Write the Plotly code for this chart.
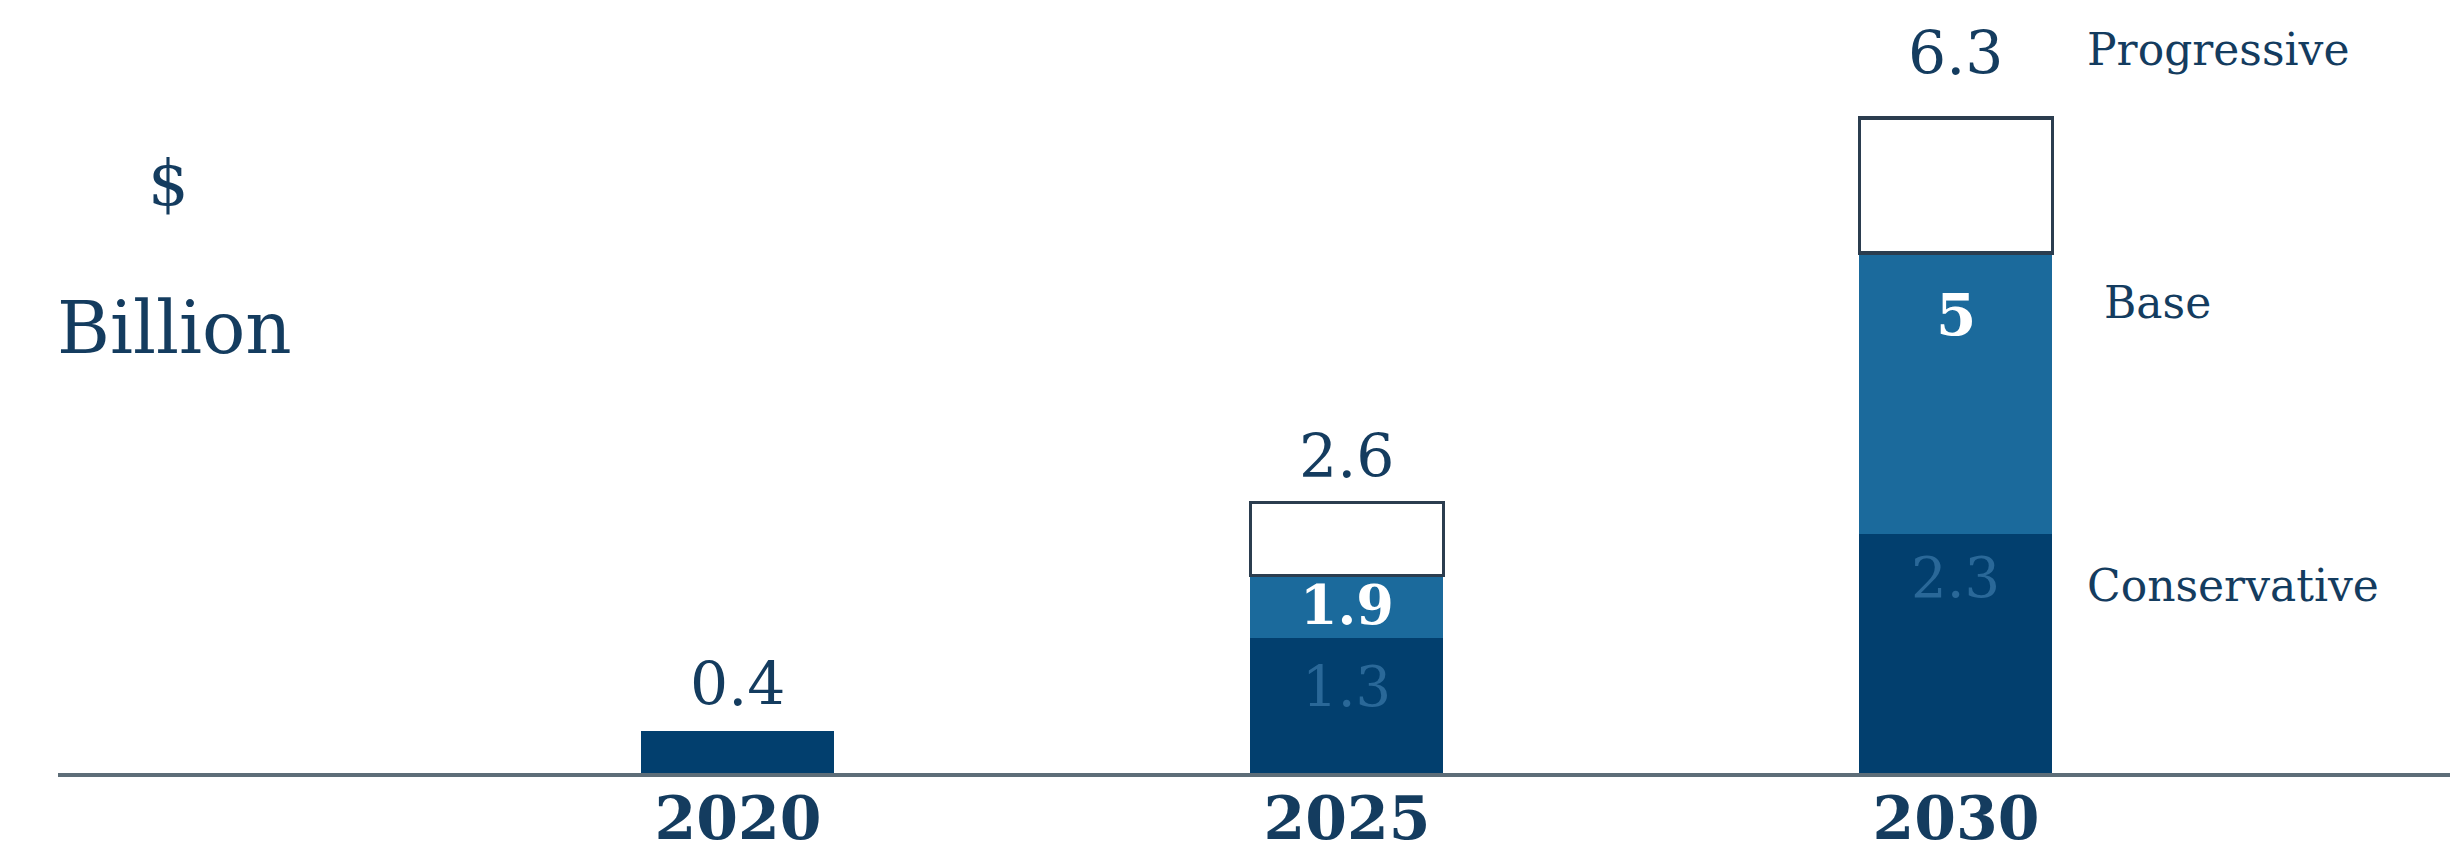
import plotly.graph_objects as go

years = ["2020", "2025", "2030"]
conservative = [0.4, 1.3, 2.3]
base = [None, 1.9, 5.0]
progressive = [None, 2.6, 6.3]

NAVY = "#143c5f"
DARK = "#023f6e"
MID = "#1b6a9c"
FONT = "DejaVu Serif"

base_inc = [None if b is None else round(b - c, 2) for b, c in zip(base, conservative)]
prog_inc = [None if p is None else round(p - b, 2) for p, b in zip(progressive, base)]

fig = go.Figure()
fig.add_bar(x=years, y=conservative, marker=dict(color=DARK, line=dict(width=0)), name="Conservative")
fig.add_bar(x=years, y=base_inc, marker=dict(color=MID, line=dict(width=0)), name="Base")
fig.add_bar(x=years, y=prog_inc, marker=dict(color="white", line=dict(color="#2b3d4f", width=3.5)), name="Progressive")

anns = []
# totals above bars
totals = [conservative[0], progressive[1], progressive[2]]
shifts = [10, 10, 28]
for i, t in enumerate(totals):
    anns.append(dict(x=i, y=t, xref="x", yref="y", text=f"{t:g}", showarrow=False,
                     yanchor="bottom", yshift=shifts[i], font=dict(family=FONT, size=60, color=NAVY)))
# inner labels: base (white bold) and conservative (mid blue)
for i in (1, 2):
    anns.append(dict(x=i, y=base[i], xref="x", yref="y", text=f"{base[i]:g}", showarrow=False,
                     yanchor="top", yshift=4 if i == 1 else -26,
                     font=dict(family=FONT, size=54 if i == 1 else 58, color="white", weight="bold")))
    anns.append(dict(x=i, y=conservative[i], xref="x", yref="y", text=f"{conservative[i]:g}",
                     showarrow=False, yanchor="top", yshift=-14 if i == 1 else -9,
                     font=dict(family=FONT, size=56, color="#2a6898")))
# scenario labels
anns.append(dict(x=0.8418, y=0.958, xref="paper", yref="paper", text="Progressive", showarrow=False,
                 xanchor="left", yanchor="middle", font=dict(family=FONT, size=44, color=NAVY)))
anns.append(dict(x=0.8488, y=0.623, xref="paper", yref="paper", text="Base", showarrow=False,
                 xanchor="left", yanchor="middle", font=dict(family=FONT, size=44, color=NAVY)))
anns.append(dict(x=0.8418, y=0.248, xref="paper", yref="paper", text="Conservative", showarrow=False,
                 xanchor="left", yanchor="middle", font=dict(family=FONT, size=44, color=NAVY)))
anns.append(dict(x=0.046, y=0.782, xref="paper", yref="paper", text="$", showarrow=False,
                 xanchor="center", yanchor="middle", font=dict(family=FONT, size=64, color=NAVY)))
anns.append(dict(x=0.0485, y=0.589, xref="paper", yref="paper", text="Billion", showarrow=False,
                 xanchor="center", yanchor="middle", font=dict(family=FONT, size=72, color=NAVY)))

fig.update_layout(
    width=2458, height=850,
    margin=dict(l=50, r=0, t=10, b=85),
    barmode="stack", bargap=0.683,
    plot_bgcolor="white", paper_bgcolor="white",
    showlegend=False,
    annotations=anns,
    xaxis=dict(type="category", range=[-1.1165, 2.8375], showline=True, linecolor="#5d6d78", linewidth=4,
               showgrid=False, ticks="", ticklabelstandoff=-10,
               tickfont=dict(family=FONT, size=60, color=NAVY, weight="bold"),
               zeroline=False),
    yaxis=dict(range=[0, 7.26], visible=False, showgrid=False, zeroline=False),
)

fig.write_html("out.html")
